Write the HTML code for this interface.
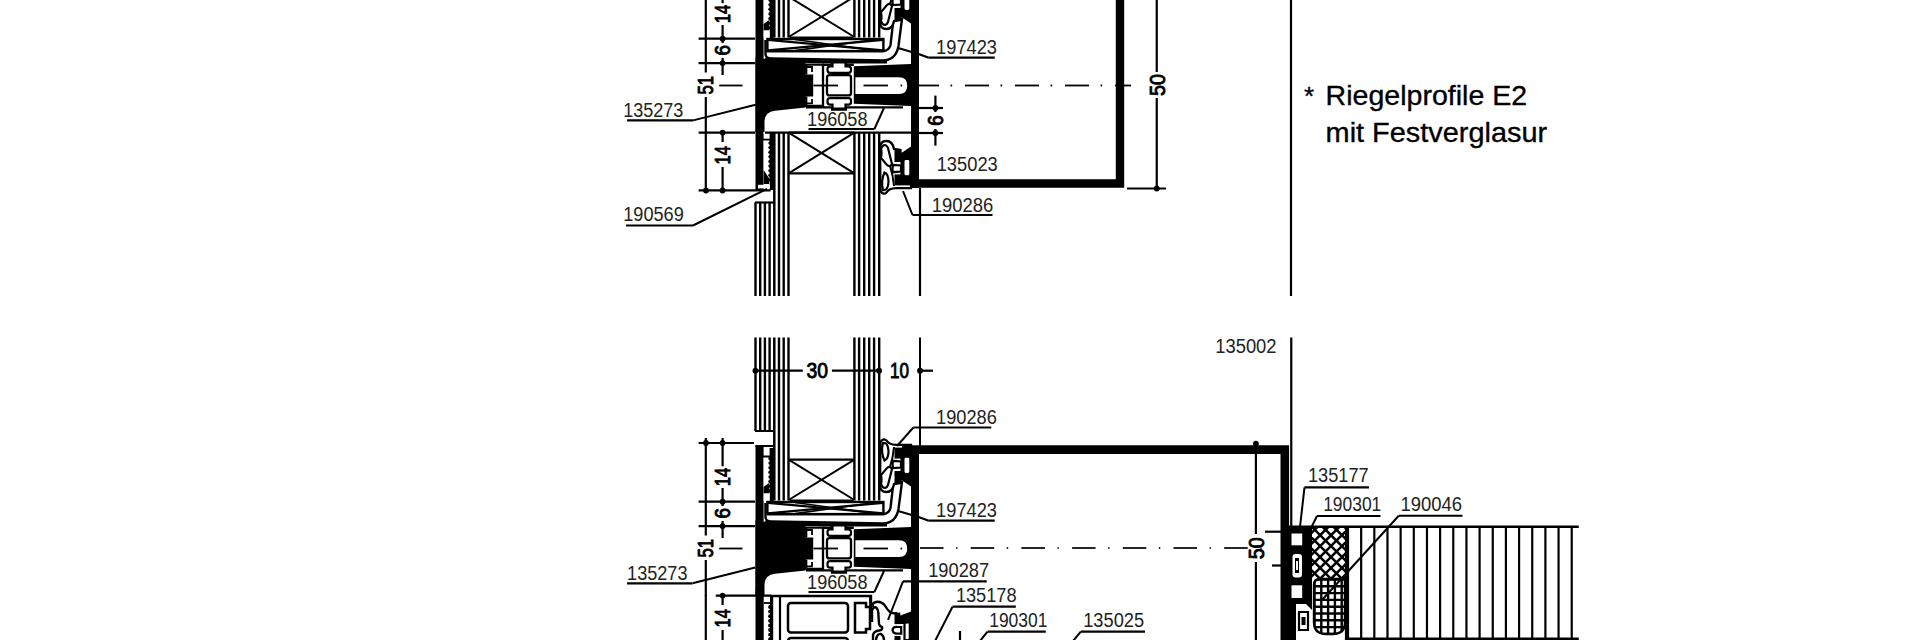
<!DOCTYPE html>
<html><head><meta charset="utf-8"><style>
html,body{margin:0;padding:0;background:#fff;width:1920px;height:640px;overflow:hidden}
svg{display:block}
text{font-family:"Liberation Sans",sans-serif;fill:#222;stroke:none}
text.dim{fill:#000;stroke:#000;stroke-width:0.9}
text.note{fill:#000;stroke:#000;stroke-width:0.35}
</style></head><body>
<svg width="1920" height="640" viewBox="0 0 1920 640">
<rect width="1920" height="640" fill="#fff"/>
<g stroke="#000" fill="none" stroke-linecap="butt">
<defs><clipPath id="clipTop"><rect x="0" y="0" width="1920" height="132"/></clipPath><clipPath id="clipProfBot"><rect x="0" y="337.5" width="1920" height="258.5"/></clipPath></defs>
<g clip-path="url(#clipTop)"><line x1="755.5" y1="-140" x2="755.5" y2="-32" stroke-width="2.4"/>
<line x1="760.2" y1="-140" x2="760.2" y2="-32" stroke-width="2.4"/>
<line x1="764.9" y1="-140" x2="764.9" y2="-32" stroke-width="2.4"/>
<line x1="769.6" y1="-140" x2="769.6" y2="-32" stroke-width="2.4"/>
<line x1="755" y1="-32" x2="773.5" y2="-32" stroke-width="2.2"/>
<line x1="774.3" y1="-140" x2="774.3" y2="37.5" stroke-width="2.5"/>
<line x1="779.0" y1="-140" x2="779.0" y2="37.5" stroke-width="2.4"/>
<line x1="783.7" y1="-140" x2="783.7" y2="37.5" stroke-width="2.4"/>
<line x1="788.5" y1="-140" x2="788.5" y2="37.5" stroke-width="2.4"/>
<line x1="854.4" y1="-140" x2="854.4" y2="37.5" stroke-width="2.4"/>
<line x1="859.1" y1="-140" x2="859.1" y2="37.5" stroke-width="2.4"/>
<line x1="864.2" y1="-140" x2="864.2" y2="37.5" stroke-width="2.4"/>
<line x1="869.2" y1="-140" x2="869.2" y2="37.5" stroke-width="2.4"/>
<line x1="874.1" y1="-140" x2="874.1" y2="37.5" stroke-width="2.4"/>
<line x1="879.2" y1="-140" x2="879.2" y2="37.5" stroke-width="2.4"/>
<line x1="788.6" y1="-3.3" x2="854.4" y2="-3.3" stroke-width="2.2"/>
<line x1="788.6" y1="37" x2="854.4" y2="-3.3" stroke-width="2"/>
<line x1="788.6" y1="-3.3" x2="854.4" y2="37" stroke-width="2"/>
<rect x="755.5" y="-18" width="8.1" height="160" fill="#000" stroke="none"/>
<line x1="755.5" y1="-17" x2="773" y2="-17" stroke-width="2.2"/>
<rect x="763.6" y="-7" width="6" height="37.5" fill="#fff" stroke="none"/>
<circle cx="770" cy="-4.5" r="1.7" fill="#000" stroke="none"/><circle cx="770" cy="0.1" r="1.7" fill="#000" stroke="none"/><circle cx="770" cy="4.7" r="1.7" fill="#000" stroke="none"/><circle cx="770" cy="9.3" r="1.7" fill="#000" stroke="none"/><circle cx="770" cy="13.9" r="1.7" fill="#000" stroke="none"/><circle cx="770" cy="18.5" r="1.7" fill="#000" stroke="none"/><circle cx="770" cy="23.1" r="1.7" fill="#000" stroke="none"/><circle cx="770" cy="27.7" r="1.7" fill="#000" stroke="none"/>
<rect x="769.6" y="-15" width="4" height="53" fill="#000" stroke="none"/>
<line x1="763" y1="-6.5" x2="770" y2="-6.5" stroke-width="1.8"/>
<path d="M763.6,24 L769,20 L769,30.5 L763.6,30.5 Z" fill="#000" stroke="none"/>
<rect x="763.6" y="30.5" width="6" height="7.5" fill="#fff" stroke="none"/>
<path d="M765.5,40 L765.5,54 Q765.5,58.5 771,58.5 L883,60.5 Q896,60 898.5,46 L902,19 L893.5,19 L890.5,45 Q889,51 883,51 L767,51" fill="#fff" stroke-width="2.4"/>
<rect x="767.4" y="39" width="116" height="12.1" fill="#fff" stroke-width="2.4"/>
<line x1="768" y1="39.8" x2="883" y2="50.3" stroke-width="2.2"/>
<line x1="768" y1="50.3" x2="883" y2="39.8" stroke-width="2.2"/>
<line x1="795" y1="39.5" x2="875" y2="50.6" stroke-width="1.6"/>
<line x1="795" y1="50.6" x2="875" y2="39.5" stroke-width="1.6"/>
<line x1="790" y1="37.8" x2="853" y2="37.8" stroke-width="2.4"/>
<path d="M765,59.5 Q790,62 887,62" fill="none" stroke-width="3"/>
<path d="M806.2,74.5 L806.2,64.6 L823,64.6 L823,105.8 L806.2,105.8 L806.2,96.5" fill="#fff" stroke-width="2.3"/>
<path d="M806.2,67 L812,67 L812,72" fill="none" stroke-width="1.8"/>
<path d="M806.2,103.4 L812,103.4 L812,99" fill="none" stroke-width="1.8"/>
<rect x="827" y="75.2" width="24" height="20.2" rx="2.5" fill="#fff" stroke-width="2.3"/>
<path d="M823,64.7 L832,64.7 L832,61.5 L846,61.5 L846,64.7 L853.8,64.7" fill="none" stroke-width="2.4"/>
<path d="M806,107.4 L832,107.4 L832,109.6 L846,109.6 L846,107.4 L903,107.4" fill="none" stroke-width="2.2"/>
<path d="M832.5,62.5 L845.5,62.5 L845.5,66.3 L848.5,66.3 Q851,66.3 851,69 L851,70.3 Q851,72.8 848.5,72.8 L830,72.8 Q827.5,72.8 827.5,70.3 L827.5,69 Q827.5,66.3 830,66.3 L832.5,66.3 Z" fill="#fff" stroke-width="2.2"/>
<g transform="translate(0,171) scale(1,-1)"><path d="M832.5,62.5 L845.5,62.5 L845.5,66.3 L848.5,66.3 Q851,66.3 851,69 L851,70.3 Q851,72.8 848.5,72.8 L830,72.8 Q827.5,72.8 827.5,70.3 L827.5,69 Q827.5,66.3 830,66.3 L832.5,66.3 Z" fill="#fff" stroke-width="2.2"/></g>
<path d="M853.8,66.2 L911,64 L911,106 L853.8,103.8 Z M855.4,77.3 L899,77.3 Q907.2,77.3 907.2,85.7 Q907.2,94.1 899,94.1 L855.4,94.1 Z" fill="#000" fill-rule="evenodd" stroke="none"/>
<path d="M755.5,57.6 Q780,61 805.5,61.8 L805.5,74.5 L813.2,74.5 L813.2,96.5 L805.5,96.5 L805.5,107.5 L775,110.8 Q765,112 764.5,121 L764.5,140 L755.5,140 Z" fill="#000" stroke="none"/>
<rect x="911" y="-17" width="8" height="300" fill="#000" stroke="none"/>
<line x1="920" y1="-140" x2="920" y2="-17" stroke-width="2"/>
<g transform="translate(0,170.0) scale(1,-1)"><path d="M880,148 Q880,141 886.5,141 Q892.5,141 894,149 L900.5,150 L900.5,155 L911,148 L911,188.2 L896,188.2 Q889,188.5 886.5,192.5 Q883.5,195.5 880.5,191 Z" fill="#fff" stroke-width="2.3"/>
<path d="M894.5,150 L900.5,150 L900.5,155 L911,148 L911,160 L902,162 L894.5,162 Z" fill="#000" stroke="none"/>
<rect x="894.5" y="174.4" width="16.5" height="11" fill="#000" stroke="none"/>
<rect x="903.4" y="159" width="7" height="17.4" rx="2.5" fill="#fff" stroke-width="2.2"/>
<rect x="900.5" y="160" width="3.5" height="16" fill="#000" stroke="none"/>
<path d="M893,165 Q892,168.5 893,172.2 L901,171.5 L901,165.5 Z" fill="#fff" stroke-width="2.2"/>
<path d="M883,190 Q880.5,181 884.5,172.5 Q888.5,174 888.5,182 Q888,191 883,190 Z" fill="#fff" stroke-width="2.2"/>
<path d="M882.5,146 Q886,143.5 888,148 L892,164 Q890,167.5 887,165 L881,158 Q882,152 881,149 Z" fill="#fff" stroke-width="2.2"/>
<path d="M890,166 Q893,175 894,186" fill="none" stroke-width="2"/></g>
<line x1="719.2" y1="85.5" x2="742.5" y2="85.5" stroke-width="1.8"/>
<line x1="813.5" y1="85.5" x2="838.0" y2="85.5" stroke-width="1.8"/>
<line x1="850.5" y1="85.5" x2="852.1" y2="85.5" stroke-width="1.8"/>
<line x1="863.5" y1="85.5" x2="888.0" y2="85.5" stroke-width="1.8"/>
<line x1="900.5" y1="85.5" x2="902.1" y2="85.5" stroke-width="1.8"/>
<line x1="698.6" y1="38.7" x2="755" y2="38.7" stroke-width="2.2"/>
<line x1="698.6" y1="63.1" x2="755" y2="63.1" stroke-width="2.2"/>
<line x1="698.6" y1="-20" x2="754" y2="-20" stroke-width="2.2"/>
<circle cx="722.6" cy="38.7" r="2.9" stroke="none" fill="#000"/>
<circle cx="722.6" cy="63.1" r="2.9" stroke="none" fill="#000"/>
<circle cx="706" cy="-20" r="2.9" stroke="none" fill="#000"/>
<circle cx="722.6" cy="-20" r="2.9" stroke="none" fill="#000"/>
<line x1="705.8" y1="-25" x2="705.8" y2="72.5" stroke-width="2.2"/>
<line x1="705.8" y1="97" x2="705.8" y2="200" stroke-width="2.2"/>
<text x="706" y="85.2" font-size="22" textLength="18.5" lengthAdjust="spacingAndGlyphs" text-anchor="middle" dominant-baseline="central" transform="rotate(-90 706 85.2)" class="dim">51</text>
<line x1="722.6" y1="-25" x2="722.6" y2="3.2" stroke-width="2.2"/>
<text x="722.8" y="14" font-size="22" textLength="18.5" lengthAdjust="spacingAndGlyphs" text-anchor="middle" dominant-baseline="central" transform="rotate(-90 722.8 14)" class="dim">14</text>
<line x1="722.6" y1="25" x2="722.6" y2="43" stroke-width="2.2"/>
<text x="722.8" y="50.3" font-size="22" textLength="10.5" lengthAdjust="spacingAndGlyphs" text-anchor="middle" dominant-baseline="central" transform="rotate(-90 722.8 50.3)" class="dim">6</text>
<line x1="722.6" y1="58" x2="722.6" y2="75" stroke-width="2.2"/>
<text x="936.1" y="54.2" font-size="19.5" textLength="60.9" lengthAdjust="spacingAndGlyphs" text-anchor="start" >197423</text>
<line x1="928.75" y1="57.7" x2="994.75" y2="57.7" stroke-width="2.2"/>
<polyline points="928.75,57.7 919.3,54.3 899,48.25" fill="none" stroke-width="2"/>
<text x="807.1" y="125.6" font-size="19.5" textLength="60.4" lengthAdjust="spacingAndGlyphs" text-anchor="start" >196058</text>
<line x1="808.5" y1="129" x2="874.4" y2="129" stroke-width="2.2"/>
<polyline points="874.4,129 884,108" fill="none" stroke-width="2"/></g>
<line x1="774.3" y1="132" x2="774.3" y2="296" stroke-width="2.5"/>
<line x1="779.0" y1="132" x2="779.0" y2="296" stroke-width="2.4"/>
<line x1="783.7" y1="132" x2="783.7" y2="296" stroke-width="2.4"/>
<line x1="788.5" y1="132" x2="788.5" y2="296" stroke-width="2.4"/>
<line x1="854.4" y1="132" x2="854.4" y2="296" stroke-width="2.4"/>
<line x1="859.1" y1="132" x2="859.1" y2="296" stroke-width="2.4"/>
<line x1="864.2" y1="132" x2="864.2" y2="296" stroke-width="2.4"/>
<line x1="869.2" y1="132" x2="869.2" y2="296" stroke-width="2.4"/>
<line x1="874.1" y1="132" x2="874.1" y2="296" stroke-width="2.4"/>
<line x1="879.2" y1="132" x2="879.2" y2="296" stroke-width="2.4"/>
<line x1="755.5" y1="202.5" x2="755.5" y2="296" stroke-width="2.4"/>
<line x1="760.2" y1="202.5" x2="760.2" y2="296" stroke-width="2.4"/>
<line x1="764.9" y1="202.5" x2="764.9" y2="296" stroke-width="2.4"/>
<line x1="769.6" y1="202.5" x2="769.6" y2="296" stroke-width="2.4"/>
<line x1="755" y1="202.5" x2="773.5" y2="202.5" stroke-width="2.2"/>
<line x1="788.6" y1="132.6" x2="854.4" y2="132.6" stroke-width="2.2"/>
<line x1="788.6" y1="173.4" x2="854.4" y2="173.4" stroke-width="2.2"/>
<line x1="788.6" y1="132.6" x2="854.4" y2="173.4" stroke-width="2"/>
<line x1="788.6" y1="173.4" x2="854.4" y2="132.6" stroke-width="2"/>
<line x1="698.6" y1="190.3" x2="770.6" y2="190.3" stroke-width="2.2"/>
<circle cx="706" cy="190.5" r="2.9" stroke="none" fill="#000"/>
<circle cx="722.6" cy="190.5" r="2.9" stroke="none" fill="#000"/>
<line x1="705.8" y1="132" x2="705.8" y2="190.5" stroke-width="2.2"/>
<line x1="722.6" y1="132" x2="722.6" y2="142" stroke-width="2.2"/>
<text x="722.8" y="155.2" font-size="22" textLength="18.5" lengthAdjust="spacingAndGlyphs" text-anchor="middle" dominant-baseline="central" transform="rotate(-90 722.8 155.2)" class="dim">14</text>
<line x1="722.6" y1="167" x2="722.6" y2="190.5" stroke-width="2.2"/>
<line x1="698.6" y1="132.6" x2="755" y2="132.6" stroke-width="2.2"/>
<circle cx="722.6" cy="132.6" r="2.9" stroke="none" fill="#000"/>
<rect x="755.5" y="130" width="8.1" height="60" fill="#000" stroke="none"/>
<rect x="763.6" y="132" width="6" height="2" fill="#fff" stroke="none"/>
<rect x="763.6" y="139.6" width="6" height="47.8" fill="#fff" stroke="none"/>
<circle cx="770" cy="143.0" r="1.7" fill="#000" stroke="none"/><circle cx="770" cy="147.6" r="1.7" fill="#000" stroke="none"/><circle cx="770" cy="152.2" r="1.7" fill="#000" stroke="none"/><circle cx="770" cy="156.8" r="1.7" fill="#000" stroke="none"/><circle cx="770" cy="161.4" r="1.7" fill="#000" stroke="none"/><circle cx="770" cy="166.0" r="1.7" fill="#000" stroke="none"/><circle cx="770" cy="170.6" r="1.7" fill="#000" stroke="none"/><circle cx="770" cy="175.2" r="1.7" fill="#000" stroke="none"/><circle cx="770" cy="179.8" r="1.7" fill="#000" stroke="none"/>
<rect x="769.6" y="132" width="4" height="58" fill="#000" stroke="none"/>
<line x1="763" y1="139.6" x2="770" y2="139.6" stroke-width="1.8"/>
<path d="M763.6,170 L769,178 L769,184 L763.6,184 Z" fill="#000" stroke="none"/>
<rect x="758" y="184.8" width="12" height="3.6" fill="#fff" stroke="none"/>
<line x1="765" y1="132.6" x2="911" y2="132.6" stroke-width="2.2"/>
<rect x="911" y="0" width="8" height="188" fill="#000" stroke="none"/>
<g><path d="M880,148 Q880,141 886.5,141 Q892.5,141 894,149 L900.5,150 L900.5,155 L911,148 L911,188.2 L896,188.2 Q889,188.5 886.5,192.5 Q883.5,195.5 880.5,191 Z" fill="#fff" stroke-width="2.3"/>
<path d="M894.5,150 L900.5,150 L900.5,155 L911,148 L911,160 L902,162 L894.5,162 Z" fill="#000" stroke="none"/>
<rect x="894.5" y="174.4" width="16.5" height="11" fill="#000" stroke="none"/>
<rect x="903.4" y="159" width="7" height="17.4" rx="2.5" fill="#fff" stroke-width="2.2"/>
<rect x="900.5" y="160" width="3.5" height="16" fill="#000" stroke="none"/>
<path d="M893,165 Q892,168.5 893,172.2 L901,171.5 L901,165.5 Z" fill="#fff" stroke-width="2.2"/>
<path d="M883,190 Q880.5,181 884.5,172.5 Q888.5,174 888.5,182 Q888,191 883,190 Z" fill="#fff" stroke-width="2.2"/>
<path d="M882.5,146 Q886,143.5 888,148 L892,164 Q890,167.5 887,165 L881,158 Q882,152 881,149 Z" fill="#fff" stroke-width="2.2"/>
<path d="M890,166 Q893,175 894,186" fill="none" stroke-width="2"/></g>
<path d="M917,183.5 L1120,183.5 L1120,-10" stroke-width="8.4" stroke-linejoin="miter"/>
<line x1="920" y1="188" x2="920" y2="296" stroke-width="2.2"/>
<line x1="1156.75" y1="-10" x2="1156.75" y2="72" stroke-width="2.2"/>
<line x1="1156.75" y1="98" x2="1156.75" y2="188.5" stroke-width="2.2"/>
<text x="1157.5" y="85" font-size="22" textLength="22" lengthAdjust="spacingAndGlyphs" text-anchor="middle" dominant-baseline="central" transform="rotate(-90 1157.5 85)" class="dim">50</text>
<line x1="1127" y1="188.5" x2="1166" y2="188.5" stroke-width="2.2"/>
<circle cx="1156.75" cy="188.5" r="2.9" stroke="none" fill="#000"/>
<line x1="919" y1="108" x2="943" y2="108" stroke-width="2.2"/>
<line x1="919" y1="133" x2="943" y2="133" stroke-width="2.2"/>
<circle cx="935.4" cy="108" r="2.9" stroke="none" fill="#000"/>
<circle cx="935.4" cy="133" r="2.9" stroke="none" fill="#000"/>
<line x1="935.4" y1="95.6" x2="935.4" y2="112" stroke-width="2.2"/>
<text x="935.8" y="120.6" font-size="22" textLength="10.5" lengthAdjust="spacingAndGlyphs" text-anchor="middle" dominant-baseline="central" transform="rotate(-90 935.8 120.6)" class="dim">6</text>
<line x1="935.4" y1="129" x2="935.4" y2="145.6" stroke-width="2.2"/>
<line x1="919" y1="85.5" x2="939" y2="85.5" stroke-width="1.8"/>
<line x1="950.5" y1="85.5" x2="952.2" y2="85.5" stroke-width="1.8"/>
<line x1="965" y1="85.5" x2="989" y2="85.5" stroke-width="1.8"/>
<line x1="1000.5" y1="85.5" x2="1002.2" y2="85.5" stroke-width="1.8"/>
<line x1="1015" y1="85.5" x2="1039" y2="85.5" stroke-width="1.8"/>
<line x1="1050.5" y1="85.5" x2="1052.2" y2="85.5" stroke-width="1.8"/>
<line x1="1065" y1="85.5" x2="1089" y2="85.5" stroke-width="1.8"/>
<line x1="1100.5" y1="85.5" x2="1102.2" y2="85.5" stroke-width="1.8"/>
<line x1="1115" y1="85.5" x2="1131" y2="85.5" stroke-width="1.8"/>
<text x="936.7" y="170.5" font-size="19.5" textLength="61.1" lengthAdjust="spacingAndGlyphs" text-anchor="start" >135023</text>
<text x="623.2" y="116.9" font-size="19.5" textLength="60.2" lengthAdjust="spacingAndGlyphs" text-anchor="start" >135273</text>
<line x1="627.1" y1="120.4" x2="693.1" y2="120.4" stroke-width="2.2"/>
<polyline points="693.1,120.4 755.6,104.8" fill="none" stroke-width="2"/>
<text x="931.7" y="212" font-size="19.5" textLength="61.6" lengthAdjust="spacingAndGlyphs" text-anchor="start" >190286</text>
<line x1="912.5" y1="215" x2="992.5" y2="215" stroke-width="2.2"/>
<polyline points="912.5,215 903,191" fill="none" stroke-width="2"/>
<text x="623.2" y="221" font-size="19.5" textLength="60.6" lengthAdjust="spacingAndGlyphs" text-anchor="start" >190569</text>
<line x1="626" y1="225.5" x2="693" y2="225.5" stroke-width="2.2"/>
<polyline points="693,225.5 766.9,188.9" fill="none" stroke-width="2"/>
<line x1="1291" y1="0" x2="1291" y2="296" stroke-width="2.2"/>
<text x="1304" y="105" font-size="26" class="note">*</text>
<text x="1325.6" y="105.1" font-size="27.5" textLength="201.5" lengthAdjust="spacingAndGlyphs" text-anchor="start" class="note">Riegelprofile E2</text>
<text x="1325.6" y="142.1" font-size="27.5" textLength="221.5" lengthAdjust="spacingAndGlyphs" text-anchor="start" class="note">mit Festverglasur</text>
<g clip-path="url(#clipProfBot)"><g transform="translate(0,463)"><line x1="755.5" y1="-140" x2="755.5" y2="-32" stroke-width="2.4"/>
<line x1="760.2" y1="-140" x2="760.2" y2="-32" stroke-width="2.4"/>
<line x1="764.9" y1="-140" x2="764.9" y2="-32" stroke-width="2.4"/>
<line x1="769.6" y1="-140" x2="769.6" y2="-32" stroke-width="2.4"/>
<line x1="755" y1="-32" x2="773.5" y2="-32" stroke-width="2.2"/>
<line x1="774.3" y1="-140" x2="774.3" y2="37.5" stroke-width="2.5"/>
<line x1="779.0" y1="-140" x2="779.0" y2="37.5" stroke-width="2.4"/>
<line x1="783.7" y1="-140" x2="783.7" y2="37.5" stroke-width="2.4"/>
<line x1="788.5" y1="-140" x2="788.5" y2="37.5" stroke-width="2.4"/>
<line x1="854.4" y1="-140" x2="854.4" y2="37.5" stroke-width="2.4"/>
<line x1="859.1" y1="-140" x2="859.1" y2="37.5" stroke-width="2.4"/>
<line x1="864.2" y1="-140" x2="864.2" y2="37.5" stroke-width="2.4"/>
<line x1="869.2" y1="-140" x2="869.2" y2="37.5" stroke-width="2.4"/>
<line x1="874.1" y1="-140" x2="874.1" y2="37.5" stroke-width="2.4"/>
<line x1="879.2" y1="-140" x2="879.2" y2="37.5" stroke-width="2.4"/>
<line x1="788.6" y1="-3.3" x2="854.4" y2="-3.3" stroke-width="2.2"/>
<line x1="788.6" y1="37" x2="854.4" y2="-3.3" stroke-width="2"/>
<line x1="788.6" y1="-3.3" x2="854.4" y2="37" stroke-width="2"/>
<rect x="755.5" y="-18" width="8.1" height="160" fill="#000" stroke="none"/>
<line x1="755.5" y1="-17" x2="773" y2="-17" stroke-width="2.2"/>
<rect x="763.6" y="-7" width="6" height="37.5" fill="#fff" stroke="none"/>
<circle cx="770" cy="-4.5" r="1.7" fill="#000" stroke="none"/><circle cx="770" cy="0.1" r="1.7" fill="#000" stroke="none"/><circle cx="770" cy="4.7" r="1.7" fill="#000" stroke="none"/><circle cx="770" cy="9.3" r="1.7" fill="#000" stroke="none"/><circle cx="770" cy="13.9" r="1.7" fill="#000" stroke="none"/><circle cx="770" cy="18.5" r="1.7" fill="#000" stroke="none"/><circle cx="770" cy="23.1" r="1.7" fill="#000" stroke="none"/><circle cx="770" cy="27.7" r="1.7" fill="#000" stroke="none"/>
<rect x="769.6" y="-15" width="4" height="53" fill="#000" stroke="none"/>
<line x1="763" y1="-6.5" x2="770" y2="-6.5" stroke-width="1.8"/>
<path d="M763.6,24 L769,20 L769,30.5 L763.6,30.5 Z" fill="#000" stroke="none"/>
<rect x="763.6" y="30.5" width="6" height="7.5" fill="#fff" stroke="none"/>
<path d="M765.5,40 L765.5,54 Q765.5,58.5 771,58.5 L883,60.5 Q896,60 898.5,46 L902,19 L893.5,19 L890.5,45 Q889,51 883,51 L767,51" fill="#fff" stroke-width="2.4"/>
<rect x="767.4" y="39" width="116" height="12.1" fill="#fff" stroke-width="2.4"/>
<line x1="768" y1="39.8" x2="883" y2="50.3" stroke-width="2.2"/>
<line x1="768" y1="50.3" x2="883" y2="39.8" stroke-width="2.2"/>
<line x1="795" y1="39.5" x2="875" y2="50.6" stroke-width="1.6"/>
<line x1="795" y1="50.6" x2="875" y2="39.5" stroke-width="1.6"/>
<line x1="790" y1="37.8" x2="853" y2="37.8" stroke-width="2.4"/>
<path d="M765,59.5 Q790,62 887,62" fill="none" stroke-width="3"/>
<path d="M806.2,74.5 L806.2,64.6 L823,64.6 L823,105.8 L806.2,105.8 L806.2,96.5" fill="#fff" stroke-width="2.3"/>
<path d="M806.2,67 L812,67 L812,72" fill="none" stroke-width="1.8"/>
<path d="M806.2,103.4 L812,103.4 L812,99" fill="none" stroke-width="1.8"/>
<rect x="827" y="75.2" width="24" height="20.2" rx="2.5" fill="#fff" stroke-width="2.3"/>
<path d="M823,64.7 L832,64.7 L832,61.5 L846,61.5 L846,64.7 L853.8,64.7" fill="none" stroke-width="2.4"/>
<path d="M806,107.4 L832,107.4 L832,109.6 L846,109.6 L846,107.4 L903,107.4" fill="none" stroke-width="2.2"/>
<path d="M832.5,62.5 L845.5,62.5 L845.5,66.3 L848.5,66.3 Q851,66.3 851,69 L851,70.3 Q851,72.8 848.5,72.8 L830,72.8 Q827.5,72.8 827.5,70.3 L827.5,69 Q827.5,66.3 830,66.3 L832.5,66.3 Z" fill="#fff" stroke-width="2.2"/>
<g transform="translate(0,171) scale(1,-1)"><path d="M832.5,62.5 L845.5,62.5 L845.5,66.3 L848.5,66.3 Q851,66.3 851,69 L851,70.3 Q851,72.8 848.5,72.8 L830,72.8 Q827.5,72.8 827.5,70.3 L827.5,69 Q827.5,66.3 830,66.3 L832.5,66.3 Z" fill="#fff" stroke-width="2.2"/></g>
<path d="M853.8,66.2 L911,64 L911,106 L853.8,103.8 Z M855.4,77.3 L899,77.3 Q907.2,77.3 907.2,85.7 Q907.2,94.1 899,94.1 L855.4,94.1 Z" fill="#000" fill-rule="evenodd" stroke="none"/>
<path d="M755.5,57.6 Q780,61 805.5,61.8 L805.5,74.5 L813.2,74.5 L813.2,96.5 L805.5,96.5 L805.5,107.5 L775,110.8 Q765,112 764.5,121 L764.5,140 L755.5,140 Z" fill="#000" stroke="none"/>
<rect x="911" y="-17" width="8" height="300" fill="#000" stroke="none"/>
<line x1="920" y1="-140" x2="920" y2="-17" stroke-width="2"/>
<g transform="translate(0,170.0) scale(1,-1)"><path d="M880,148 Q880,141 886.5,141 Q892.5,141 894,149 L900.5,150 L900.5,155 L911,148 L911,188.2 L896,188.2 Q889,188.5 886.5,192.5 Q883.5,195.5 880.5,191 Z" fill="#fff" stroke-width="2.3"/>
<path d="M894.5,150 L900.5,150 L900.5,155 L911,148 L911,160 L902,162 L894.5,162 Z" fill="#000" stroke="none"/>
<rect x="894.5" y="174.4" width="16.5" height="11" fill="#000" stroke="none"/>
<rect x="903.4" y="159" width="7" height="17.4" rx="2.5" fill="#fff" stroke-width="2.2"/>
<rect x="900.5" y="160" width="3.5" height="16" fill="#000" stroke="none"/>
<path d="M893,165 Q892,168.5 893,172.2 L901,171.5 L901,165.5 Z" fill="#fff" stroke-width="2.2"/>
<path d="M883,190 Q880.5,181 884.5,172.5 Q888.5,174 888.5,182 Q888,191 883,190 Z" fill="#fff" stroke-width="2.2"/>
<path d="M882.5,146 Q886,143.5 888,148 L892,164 Q890,167.5 887,165 L881,158 Q882,152 881,149 Z" fill="#fff" stroke-width="2.2"/>
<path d="M890,166 Q893,175 894,186" fill="none" stroke-width="2"/></g>
<line x1="719.2" y1="85.5" x2="742.5" y2="85.5" stroke-width="1.8"/>
<line x1="813.5" y1="85.5" x2="838.0" y2="85.5" stroke-width="1.8"/>
<line x1="850.5" y1="85.5" x2="852.1" y2="85.5" stroke-width="1.8"/>
<line x1="863.5" y1="85.5" x2="888.0" y2="85.5" stroke-width="1.8"/>
<line x1="900.5" y1="85.5" x2="902.1" y2="85.5" stroke-width="1.8"/>
<line x1="698.6" y1="38.7" x2="755" y2="38.7" stroke-width="2.2"/>
<line x1="698.6" y1="63.1" x2="755" y2="63.1" stroke-width="2.2"/>
<line x1="698.6" y1="-20" x2="754" y2="-20" stroke-width="2.2"/>
<circle cx="722.6" cy="38.7" r="2.9" stroke="none" fill="#000"/>
<circle cx="722.6" cy="63.1" r="2.9" stroke="none" fill="#000"/>
<circle cx="706" cy="-20" r="2.9" stroke="none" fill="#000"/>
<circle cx="722.6" cy="-20" r="2.9" stroke="none" fill="#000"/>
<line x1="705.8" y1="-25" x2="705.8" y2="72.5" stroke-width="2.2"/>
<line x1="705.8" y1="97" x2="705.8" y2="200" stroke-width="2.2"/>
<text x="706" y="85.2" font-size="22" textLength="18.5" lengthAdjust="spacingAndGlyphs" text-anchor="middle" dominant-baseline="central" transform="rotate(-90 706 85.2)" class="dim">51</text>
<line x1="722.6" y1="-25" x2="722.6" y2="3.2" stroke-width="2.2"/>
<text x="722.8" y="14" font-size="22" textLength="18.5" lengthAdjust="spacingAndGlyphs" text-anchor="middle" dominant-baseline="central" transform="rotate(-90 722.8 14)" class="dim">14</text>
<line x1="722.6" y1="25" x2="722.6" y2="43" stroke-width="2.2"/>
<text x="722.8" y="50.3" font-size="22" textLength="10.5" lengthAdjust="spacingAndGlyphs" text-anchor="middle" dominant-baseline="central" transform="rotate(-90 722.8 50.3)" class="dim">6</text>
<line x1="722.6" y1="58" x2="722.6" y2="75" stroke-width="2.2"/>
<text x="936.1" y="54.2" font-size="19.5" textLength="60.9" lengthAdjust="spacingAndGlyphs" text-anchor="start" >197423</text>
<line x1="928.75" y1="57.7" x2="994.75" y2="57.7" stroke-width="2.2"/>
<polyline points="928.75,57.7 919.3,54.3 899,48.25" fill="none" stroke-width="2"/>
<text x="807.1" y="125.6" font-size="19.5" textLength="60.4" lengthAdjust="spacingAndGlyphs" text-anchor="start" >196058</text>
<line x1="808.5" y1="129" x2="874.4" y2="129" stroke-width="2.2"/>
<polyline points="874.4,129 884,108" fill="none" stroke-width="2"/></g></g>
<line x1="1291.25" y1="337.5" x2="1291.25" y2="640" stroke-width="2.2"/>
<text x="1215.2" y="352.5" font-size="19.5" textLength="61.4" lengthAdjust="spacingAndGlyphs" text-anchor="start" >135002</text>
<line x1="755.4" y1="370.7" x2="802.8" y2="370.7" stroke-width="2.2"/>
<circle cx="755.4" cy="370.7" r="2.9" stroke="none" fill="#000"/>
<text x="817.2" y="370.7" font-size="22" textLength="21.5" lengthAdjust="spacingAndGlyphs" text-anchor="middle" dominant-baseline="central" transform="rotate(0 817.2 370.7)" class="dim">30</text>
<line x1="831.9" y1="370.7" x2="879.1" y2="370.7" stroke-width="2.2"/>
<circle cx="879.1" cy="370.7" r="2.9" stroke="none" fill="#000"/>
<text x="899.4" y="370.7" font-size="22" textLength="19" lengthAdjust="spacingAndGlyphs" text-anchor="middle" dominant-baseline="central" transform="rotate(0 899.4 370.7)" class="dim">10</text>
<circle cx="920" cy="370.7" r="2.9" stroke="none" fill="#000"/>
<line x1="920" y1="370.7" x2="933" y2="370.7" stroke-width="2.2"/>
<text x="936.1" y="423.75" font-size="19.5" textLength="60.7" lengthAdjust="spacingAndGlyphs" text-anchor="start" >190286</text>
<line x1="913.4" y1="427.5" x2="991.25" y2="427.5" stroke-width="2.2"/>
<polyline points="913.4,427.5 897,446" fill="none" stroke-width="2"/>
<path d="M902,449.6 L1284.8,449.6 L1284.8,640" stroke-width="8.6" stroke-linejoin="miter"/>
<rect x="755.5" y="590" width="8.5" height="60" fill="#000" stroke="none"/>
<rect x="911" y="590" width="8" height="60" fill="#000" stroke="none"/>
<line x1="715.8" y1="595.6" x2="771" y2="595.6" stroke-width="2.2"/>
<circle cx="722.6" cy="595.6" r="2.9" stroke="none" fill="#000"/>
<line x1="705.8" y1="595" x2="705.8" y2="640" stroke-width="2.2"/>
<line x1="722.6" y1="595" x2="722.6" y2="605" stroke-width="2.2"/>
<text x="722.8" y="618.2" font-size="22" textLength="18.5" lengthAdjust="spacingAndGlyphs" text-anchor="middle" dominant-baseline="central" transform="rotate(-90 722.8 618.2)" class="dim">14</text>
<line x1="722.6" y1="630" x2="722.6" y2="640" stroke-width="2.2"/>
<path d="M771,640 L771,596 L871,596 L871,603 Q871,606 874,606" fill="none" stroke-width="2.4"/>
<rect x="770" y="596" width="3.2" height="44" fill="#000" stroke="none"/>
<line x1="780" y1="596" x2="780" y2="640" stroke-width="2.2"/>
<rect x="788" y="603" width="60" height="29.5" rx="3" stroke-width="2.5"/>
<path d="M855,603 L866,603 L866,607 L870,607 L870,629 L866,629 L866,632.5 L855,632.5 Z" stroke-width="2.5"/>
<rect x="788" y="638" width="60" height="10" rx="3" stroke-width="2.5"/>
<rect x="763.7" y="597" width="6.3" height="43" fill="#fff" stroke="none"/>
<line x1="763.7" y1="603" x2="770" y2="603" stroke-width="1.8"/>
<circle cx="770" cy="607.0" r="1.9" fill="#000" stroke="none"/><circle cx="770" cy="611.6" r="1.9" fill="#000" stroke="none"/><circle cx="770" cy="616.2" r="1.9" fill="#000" stroke="none"/><circle cx="770" cy="620.8" r="1.9" fill="#000" stroke="none"/><circle cx="770" cy="625.4" r="1.9" fill="#000" stroke="none"/><circle cx="770" cy="630.0" r="1.9" fill="#000" stroke="none"/><circle cx="770" cy="634.6" r="1.9" fill="#000" stroke="none"/><circle cx="770" cy="639.2" r="1.9" fill="#000" stroke="none"/>
<line x1="870.3" y1="596" x2="870.3" y2="609" stroke-width="2.4"/>
<path d="M870.7,611 Q871,603 876,602 Q881,601 884.5,605 Q887.5,610 890,612 Q893,614 897,613" fill="none" stroke-width="2.4"/>
<path d="M872,622 L872,611 Q873,606.5 876,607.5 Q878.5,609 878.5,616 L879,624 Q879.5,626 882,627 Q883,630 879,630.5 Q874,631 873,635 L873,640" fill="none" stroke-width="2.4"/>
<path d="M876,640 Q877,633 881,634 Q884,636 884,640" fill="none" stroke-width="2.4"/>
<rect x="894.5" y="612.6" width="5.8" height="11.5" fill="#000" stroke="none"/>
<path d="M899,616 L911,611.5 L911,640 L904,640 L904,624 L899,624 Z" fill="#000" stroke="none"/>
<path d="M904.5,640 L904.5,624.5 Q904.5,622.5 907,622.5 L909.8,622.5 L909.8,640 Z" fill="#fff" stroke-width="2.2"/>
<path d="M892.5,630 Q893,626.5 897,626.8 L901.2,627 L901.2,633.6 L897,633.6 Q893,633.5 892.5,630 Z" fill="#fff" stroke-width="2.2"/>
<rect x="894.5" y="636" width="6" height="4" fill="#000" stroke="none"/>
<text x="627.1" y="579.6" font-size="19.5" textLength="60.4" lengthAdjust="spacingAndGlyphs" text-anchor="start" >135273</text>
<line x1="627" y1="583.3" x2="692.5" y2="583.3" stroke-width="2.2"/>
<polyline points="692.5,583.3 755.2,567.5" fill="none" stroke-width="2"/>
<text x="928.2" y="577" font-size="19.5" textLength="60.9" lengthAdjust="spacingAndGlyphs" text-anchor="start" >190287</text>
<line x1="903" y1="581.4" x2="986.7" y2="581.4" stroke-width="2.2"/>
<polyline points="903,581.4 888,620" fill="none" stroke-width="2"/>
<text x="955.9000000000001" y="601.7" font-size="19.5" textLength="60.7" lengthAdjust="spacingAndGlyphs" text-anchor="start" >135178</text>
<line x1="952.5" y1="606.7" x2="1015.8" y2="606.7" stroke-width="2.2"/>
<polyline points="952.5,606.7 933,645" fill="none" stroke-width="2"/>
<text x="989.2" y="627" font-size="19.5" textLength="58.3" lengthAdjust="spacingAndGlyphs" text-anchor="start" >190301</text>
<line x1="987.5" y1="631.7" x2="1045.8" y2="631.7" stroke-width="2.2"/>
<polyline points="987.5,631.7 980,641" fill="none" stroke-width="2"/>
<text x="1083.2" y="627" font-size="19.5" textLength="60.9" lengthAdjust="spacingAndGlyphs" text-anchor="start" >135025</text>
<line x1="1080.8" y1="631.7" x2="1145" y2="631.7" stroke-width="2.2"/>
<polyline points="1080.8,631.7 1073,641" fill="none" stroke-width="2"/>
<line x1="960" y1="631" x2="960" y2="640" stroke-width="2.2"/>
<line x1="920" y1="548" x2="943.5" y2="548" stroke-width="1.7"/>
<line x1="956" y1="548" x2="957.5" y2="548" stroke-width="1.7"/>
<line x1="970.7" y1="548" x2="994.2" y2="548" stroke-width="1.7"/>
<line x1="1006.7" y1="548" x2="1008.2" y2="548" stroke-width="1.7"/>
<line x1="1021.4000000000001" y1="548" x2="1044.9" y2="548" stroke-width="1.7"/>
<line x1="1057.4" y1="548" x2="1058.9" y2="548" stroke-width="1.7"/>
<line x1="1072.1000000000001" y1="548" x2="1095.6000000000001" y2="548" stroke-width="1.7"/>
<line x1="1108.1000000000001" y1="548" x2="1109.6000000000001" y2="548" stroke-width="1.7"/>
<line x1="1122.8000000000002" y1="548" x2="1146.3000000000002" y2="548" stroke-width="1.7"/>
<line x1="1158.8000000000002" y1="548" x2="1160.3000000000002" y2="548" stroke-width="1.7"/>
<line x1="1173.5000000000002" y1="548" x2="1197.0000000000002" y2="548" stroke-width="1.7"/>
<line x1="1209.5000000000002" y1="548" x2="1211.0000000000002" y2="548" stroke-width="1.7"/>
<line x1="1224.2000000000003" y1="548" x2="1247.7000000000003" y2="548" stroke-width="1.7"/>
<line x1="1260.2000000000003" y1="548" x2="1261.7000000000003" y2="548" stroke-width="1.7"/>
<line x1="1255.9" y1="443.75" x2="1255.9" y2="534" stroke-width="2.2"/>
<circle cx="1255.9" cy="443.75" r="2.9" stroke="none" fill="#000"/>
<text x="1256.5" y="548.2" font-size="22" textLength="22" lengthAdjust="spacingAndGlyphs" text-anchor="middle" dominant-baseline="central" transform="rotate(-90 1256.5 548.2)" class="dim">50</text>
<line x1="1255.9" y1="562" x2="1255.9" y2="640" stroke-width="2.2"/>
<line x1="1265" y1="531.7" x2="1282" y2="531.7" stroke-width="2.2"/>
<line x1="1272" y1="565.5" x2="1282" y2="565.5" stroke-width="2.2"/>
<rect x="1289" y="526.7" width="23" height="114" fill="#000" stroke="none"/>
<rect x="1291.5" y="533.5" width="10.7" height="11.8" fill="#fff" stroke="none"/>
<rect x="1291.5" y="585.3" width="10.7" height="12.7" fill="#fff" stroke="none"/>
<rect x="1292.5" y="554" width="9.5" height="23.5" rx="3" fill="#fff" stroke="none"/>
<rect x="1295" y="558" width="4" height="15" fill="#000" stroke="none"/>
<rect x="1296" y="561" width="2" height="9" fill="#fff" stroke="none"/>
<path d="M1296,604 L1306,604 L1312,610 L1312,640 L1296,640 Z" fill="#fff" stroke="none"/>
<path d="M1299,612 L1308,612 L1308,630 L1299,630 Z" fill="none" stroke-width="2.2"/>
<rect x="1301.5" y="617" width="4" height="8" fill="#000" stroke="none"/>
<clipPath id="ch1"><rect x="1312" y="527.5" width="33" height="52"/></clipPath>
<g clip-path="url(#ch1)"><line x1="1170.2" y1="527" x2="1230.2" y2="587" stroke-width="2.5"/><line x1="1230.2" y1="527" x2="1170.2" y2="587" stroke-width="2.5"/><line x1="1181.1" y1="527" x2="1241.1" y2="587" stroke-width="2.5"/><line x1="1241.1" y1="527" x2="1181.1" y2="587" stroke-width="2.5"/><line x1="1192.0" y1="527" x2="1252.0" y2="587" stroke-width="2.5"/><line x1="1252.0" y1="527" x2="1192.0" y2="587" stroke-width="2.5"/><line x1="1202.9" y1="527" x2="1262.9" y2="587" stroke-width="2.5"/><line x1="1262.9" y1="527" x2="1202.9" y2="587" stroke-width="2.5"/><line x1="1213.8" y1="527" x2="1273.8" y2="587" stroke-width="2.5"/><line x1="1273.8" y1="527" x2="1213.8" y2="587" stroke-width="2.5"/><line x1="1224.7" y1="527" x2="1284.7" y2="587" stroke-width="2.5"/><line x1="1284.7" y1="527" x2="1224.7" y2="587" stroke-width="2.5"/><line x1="1235.6" y1="527" x2="1295.6" y2="587" stroke-width="2.5"/><line x1="1295.6" y1="527" x2="1235.6" y2="587" stroke-width="2.5"/><line x1="1246.5" y1="527" x2="1306.5" y2="587" stroke-width="2.5"/><line x1="1306.5" y1="527" x2="1246.5" y2="587" stroke-width="2.5"/><line x1="1257.4" y1="527" x2="1317.4" y2="587" stroke-width="2.5"/><line x1="1317.4" y1="527" x2="1257.4" y2="587" stroke-width="2.5"/><line x1="1268.3" y1="527" x2="1328.3" y2="587" stroke-width="2.5"/><line x1="1328.3" y1="527" x2="1268.3" y2="587" stroke-width="2.5"/><line x1="1279.2" y1="527" x2="1339.2" y2="587" stroke-width="2.5"/><line x1="1339.2" y1="527" x2="1279.2" y2="587" stroke-width="2.5"/><line x1="1290.1" y1="527" x2="1350.1" y2="587" stroke-width="2.5"/><line x1="1350.1" y1="527" x2="1290.1" y2="587" stroke-width="2.5"/><line x1="1301.0" y1="527" x2="1361.0" y2="587" stroke-width="2.5"/><line x1="1361.0" y1="527" x2="1301.0" y2="587" stroke-width="2.5"/><line x1="1311.9" y1="527" x2="1371.9" y2="587" stroke-width="2.5"/><line x1="1371.9" y1="527" x2="1311.9" y2="587" stroke-width="2.5"/><line x1="1322.8" y1="527" x2="1382.8" y2="587" stroke-width="2.5"/><line x1="1382.8" y1="527" x2="1322.8" y2="587" stroke-width="2.5"/><line x1="1333.7" y1="527" x2="1393.7" y2="587" stroke-width="2.5"/><line x1="1393.7" y1="527" x2="1333.7" y2="587" stroke-width="2.5"/><line x1="1344.6" y1="527" x2="1404.6" y2="587" stroke-width="2.5"/><line x1="1404.6" y1="527" x2="1344.6" y2="587" stroke-width="2.5"/><line x1="1355.5" y1="527" x2="1415.5" y2="587" stroke-width="2.5"/><line x1="1415.5" y1="527" x2="1355.5" y2="587" stroke-width="2.5"/><line x1="1366.4" y1="527" x2="1426.4" y2="587" stroke-width="2.5"/><line x1="1426.4" y1="527" x2="1366.4" y2="587" stroke-width="2.5"/><line x1="1377.3" y1="527" x2="1437.3" y2="587" stroke-width="2.5"/><line x1="1437.3" y1="527" x2="1377.3" y2="587" stroke-width="2.5"/><line x1="1388.2" y1="527" x2="1448.2" y2="587" stroke-width="2.5"/><line x1="1448.2" y1="527" x2="1388.2" y2="587" stroke-width="2.5"/><line x1="1399.1" y1="527" x2="1459.1" y2="587" stroke-width="2.5"/><line x1="1459.1" y1="527" x2="1399.1" y2="587" stroke-width="2.5"/><line x1="1410.0" y1="527" x2="1470.0" y2="587" stroke-width="2.5"/><line x1="1470.0" y1="527" x2="1410.0" y2="587" stroke-width="2.5"/><line x1="1420.9" y1="527" x2="1480.9" y2="587" stroke-width="2.5"/><line x1="1480.9" y1="527" x2="1420.9" y2="587" stroke-width="2.5"/><line x1="1431.8" y1="527" x2="1491.8" y2="587" stroke-width="2.5"/><line x1="1491.8" y1="527" x2="1431.8" y2="587" stroke-width="2.5"/><line x1="1442.7" y1="527" x2="1502.7" y2="587" stroke-width="2.5"/><line x1="1502.7" y1="527" x2="1442.7" y2="587" stroke-width="2.5"/></g>
<clipPath id="ch2"><path d="M1314,585 Q1314,579 1320,579 L1345,579 L1345,622 Q1345,634 1333,634 L1326,634 Q1314,634 1314,622 Z"/></clipPath>
<g clip-path="url(#ch2)"><line x1="1314.5" y1="575" x2="1314.5" y2="640" stroke-width="2.4"/><line x1="1321.3" y1="575" x2="1321.3" y2="640" stroke-width="2.4"/><line x1="1328.1" y1="575" x2="1328.1" y2="640" stroke-width="2.4"/><line x1="1334.9" y1="575" x2="1334.9" y2="640" stroke-width="2.4"/><line x1="1341.7" y1="575" x2="1341.7" y2="640" stroke-width="2.4"/><line x1="1348.5" y1="575" x2="1348.5" y2="640" stroke-width="2.4"/><line x1="1355.3" y1="575" x2="1355.3" y2="640" stroke-width="2.4"/><line x1="1310" y1="579.5" x2="1350" y2="579.5" stroke-width="2.4"/><line x1="1310" y1="586.3" x2="1350" y2="586.3" stroke-width="2.4"/><line x1="1310" y1="593.1" x2="1350" y2="593.1" stroke-width="2.4"/><line x1="1310" y1="599.9" x2="1350" y2="599.9" stroke-width="2.4"/><line x1="1310" y1="606.7" x2="1350" y2="606.7" stroke-width="2.4"/><line x1="1310" y1="613.5" x2="1350" y2="613.5" stroke-width="2.4"/><line x1="1310" y1="620.3" x2="1350" y2="620.3" stroke-width="2.4"/><line x1="1310" y1="627.1" x2="1350" y2="627.1" stroke-width="2.4"/><line x1="1310" y1="633.9" x2="1350" y2="633.9" stroke-width="2.4"/><line x1="1310" y1="640.7" x2="1350" y2="640.7" stroke-width="2.4"/></g>
<path d="M1314,585 Q1314,579 1320,579 L1345,579 L1345,622 Q1345,634 1333,634 L1326,634 Q1314,634 1314,622 Z" stroke-width="2.4"/>
<line x1="1346.8" y1="527" x2="1346.8" y2="640" stroke-width="3.8"/>
<line x1="1289" y1="526.7" x2="1578.75" y2="526.7" stroke-width="2.4"/>
<line x1="1346" y1="638.75" x2="1578.75" y2="638.75" stroke-width="2.4"/>
<line x1="1348.0" y1="526.75" x2="1348.0" y2="640" stroke-width="2.2"/>
<line x1="1361.16" y1="526.75" x2="1361.16" y2="640" stroke-width="2.2"/>
<line x1="1374.32" y1="526.75" x2="1374.32" y2="640" stroke-width="2.2"/>
<line x1="1387.48" y1="526.75" x2="1387.48" y2="640" stroke-width="2.2"/>
<line x1="1400.64" y1="526.75" x2="1400.64" y2="640" stroke-width="2.2"/>
<line x1="1413.8" y1="526.75" x2="1413.8" y2="640" stroke-width="2.2"/>
<line x1="1426.96" y1="526.75" x2="1426.96" y2="640" stroke-width="2.2"/>
<line x1="1440.12" y1="526.75" x2="1440.12" y2="640" stroke-width="2.2"/>
<line x1="1453.28" y1="526.75" x2="1453.28" y2="640" stroke-width="2.2"/>
<line x1="1466.44" y1="526.75" x2="1466.44" y2="640" stroke-width="2.2"/>
<line x1="1479.6" y1="526.75" x2="1479.6" y2="640" stroke-width="2.2"/>
<line x1="1492.76" y1="526.75" x2="1492.76" y2="640" stroke-width="2.2"/>
<line x1="1505.92" y1="526.75" x2="1505.92" y2="640" stroke-width="2.2"/>
<line x1="1519.08" y1="526.75" x2="1519.08" y2="640" stroke-width="2.2"/>
<line x1="1532.24" y1="526.75" x2="1532.24" y2="640" stroke-width="2.2"/>
<line x1="1545.4" y1="526.75" x2="1545.4" y2="640" stroke-width="2.2"/>
<line x1="1558.56" y1="526.75" x2="1558.56" y2="640" stroke-width="2.2"/>
<line x1="1571.72" y1="526.75" x2="1571.72" y2="640" stroke-width="2.2"/>
<text x="1308.0" y="482" font-size="19.5" textLength="60.6" lengthAdjust="spacingAndGlyphs" text-anchor="start" >135177</text>
<line x1="1304.5" y1="487.3" x2="1369" y2="487.3" stroke-width="2.2"/>
<polyline points="1304.5,487.3 1300,527" fill="none" stroke-width="2"/>
<text x="1323.2" y="511" font-size="19.5" textLength="58.1" lengthAdjust="spacingAndGlyphs" text-anchor="start" >190301</text>
<line x1="1317" y1="516" x2="1380.5" y2="516" stroke-width="2.2"/>
<polyline points="1317,516 1310,530" fill="none" stroke-width="2"/>
<text x="1400.45" y="511.25" font-size="19.5" textLength="61.6" lengthAdjust="spacingAndGlyphs" text-anchor="start" >190046</text>
<line x1="1398.75" y1="515.75" x2="1462.5" y2="515.75" stroke-width="2.2"/>
<polyline points="1398.75,515.75 1322,600" fill="none" stroke-width="2"/>
</g>
</svg></body></html>
